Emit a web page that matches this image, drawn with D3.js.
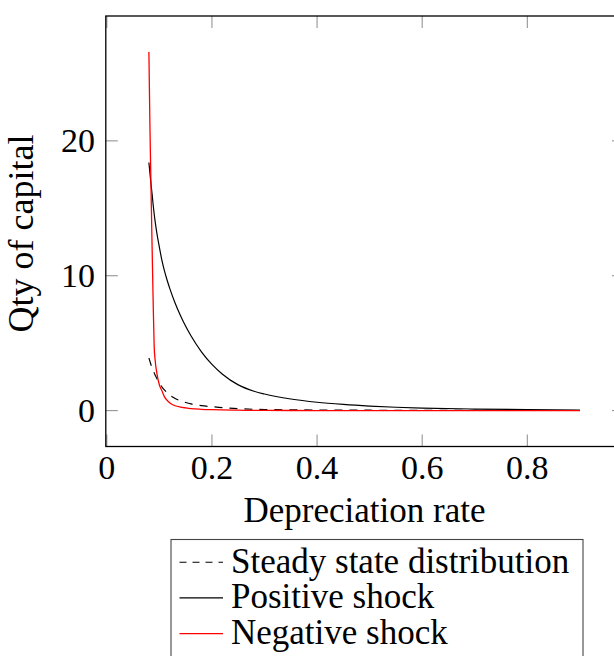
<!DOCTYPE html>
<html>
<head>
<meta charset="utf-8">
<script src="https://cdn.jsdelivr.net/npm/d3@7"></script>
<style>
html,body{margin:0;padding:0;background:#fff;overflow:hidden;}
svg{display:block;}
text{font-family:"Liberation Serif","Times New Roman",serif;fill:#000;}
</style>
</head>
<body>
<svg id="chart" width="614" height="656"></svg>
<script>
// ---- data ----
const depreciation = [0.08,0.082,0.084,0.086,0.088,0.09,0.092,0.095,0.1,0.105,0.11,0.115,0.12,0.13,0.14,0.15,0.16,0.18,0.2,0.22,0.25,0.28,0.3,0.35,0.4,0.45,0.5,0.55,0.6,0.7,0.8,0.9];
const steadyState = [3.9,3.65,3.4,3.2,3.0,2.8,2.63,2.4,2.05,1.75,1.52,1.32,1.15,0.9,0.72,0.6,0.5,0.37,0.29,0.22,0.15,0.1,0.085,0.06,0.045,0.035,0.03,0.025,0.02,0.015,0.01,0.01];
const positiveShock = [18.4,17.6,16.8,16.1,15.3,14.6,14.0,13.2,12.1,11.1,10.3,9.63,9.03,7.96,7.05,6.25,5.55,4.36,3.43,2.7,1.91,1.44,1.23,0.86,0.62,0.46,0.34,0.25,0.19,0.117,0.074,0.047];
const negativeShock = [26.6,21.0,16.6,12.3,8.3,4.8,3.7,2.8,1.9,1.45,1.0,0.75,0.57,0.36,0.26,0.2,0.15,0.1,0.07,0.05,0.03,0.02,0.015,0.01,0.006,0.004,0.003,0.002,0.002,0.001,0.001,0.001];
const xTicks = [0, 0.2, 0.4, 0.6, 0.8];
const yTicks = [0, 10, 20];
const seriesNames = ["Steady state distribution", "Positive shock", "Negative shock"];

// ---- layout ----
const svg = d3.select("#chart");
const pLeft = 105.8, pRight = 624, pTop = 16, pBottom = 446.5;
const x = d3.scaleLinear().domain([-0.002, 0.984]).range([pLeft, pRight]);
const y = d3.scaleLinear().domain([-2.66, 29.26]).range([pBottom, pTop]);

svg.append("defs").append("clipPath").attr("id","clip")
  .append("rect").attr("x",pLeft).attr("y",pTop).attr("width",pRight-pLeft).attr("height",pBottom-pTop);

const tickLen = 12;
const tickColor = "#8a8a8a";
xTicks.forEach(t => {
  svg.append("line").attr("x1",x(t)).attr("x2",x(t)).attr("y1",pBottom).attr("y2",pBottom-tickLen)
    .attr("stroke",tickColor).attr("stroke-width",1);
  svg.append("line").attr("x1",x(t)).attr("x2",x(t)).attr("y1",pTop).attr("y2",pTop+tickLen)
    .attr("stroke",tickColor).attr("stroke-width",1);
  svg.append("text").attr("x",x(t)).attr("y",479).attr("text-anchor","middle")
    .attr("font-size",34).text(t===0?"0":d3.format(".1f")(t));
});
yTicks.forEach(t => {
  svg.append("line").attr("x1",pLeft).attr("x2",pLeft+tickLen).attr("y1",y(t)).attr("y2",y(t))
    .attr("stroke",tickColor).attr("stroke-width",1);
  svg.append("line").attr("x1",pRight).attr("x2",pRight-tickLen).attr("y1",y(t)).attr("y2",y(t))
    .attr("stroke",tickColor).attr("stroke-width",1);
  svg.append("text").attr("x",95).attr("y",y(t)).attr("dy","0.33em").attr("text-anchor","end")
    .attr("font-size",34).text(String(t));
});

// series
const mk = vals => depreciation.map((d,i)=>({x:d,y:vals[i]}));
const line = d3.line().x(d=>x(d.x)).y(d=>y(d.y)).curve(d3.curveMonotoneX);
const g = svg.append("g").attr("clip-path","url(#clip)");
g.append("path").attr("d",line(mk(steadyState))).attr("fill","none").attr("stroke","#000")
  .attr("stroke-width",1.2).attr("stroke-dasharray","8,7");
g.append("path").attr("d",line(mk(positiveShock))).attr("fill","none").attr("stroke","#000")
  .attr("stroke-width",1.2);
g.append("path").attr("d",line(mk(negativeShock))).attr("fill","none").attr("stroke","#ff0000")
  .attr("stroke-width",1.3);

// frame
svg.append("rect").attr("x",pLeft).attr("y",pTop).attr("width",pRight-pLeft).attr("height",pBottom-pTop)
  .attr("fill","none").attr("stroke","#000").attr("stroke-width",1.3);

// axis labels
svg.append("text").attr("x",364.5).attr("y",522).attr("text-anchor","middle")
  .attr("font-size",35).text("Depreciation rate");
svg.append("text").attr("transform","translate(33,233.5) rotate(-90)").attr("text-anchor","middle")
  .attr("font-size",36).text("Qty of capital");

// legend
const lg = svg.append("g");
lg.append("rect").attr("x",171).attr("y",539.5).attr("width",412).attr("height",140)
  .attr("fill","#fff").attr("stroke","#444").attr("stroke-width",1.1);
const styles = [
  {stroke:"#000", dash:"7,6"},
  {stroke:"#000", dash:null},
  {stroke:"#ff0000", dash:null}
];
seriesNames.forEach((name,i) => {
  const base = 572.7 + i*35.7;
  const l = lg.append("line").attr("x1",179.5).attr("x2",223).attr("y1",base-10.5).attr("y2",base-10.5)
    .attr("stroke",styles[i].stroke).attr("stroke-width",1.1);
  if (styles[i].dash) l.attr("stroke-dasharray",styles[i].dash);
  lg.append("text").attr("x",231).attr("y",base).attr("font-size",35).text(name);
});
</script>
</body>
</html>
